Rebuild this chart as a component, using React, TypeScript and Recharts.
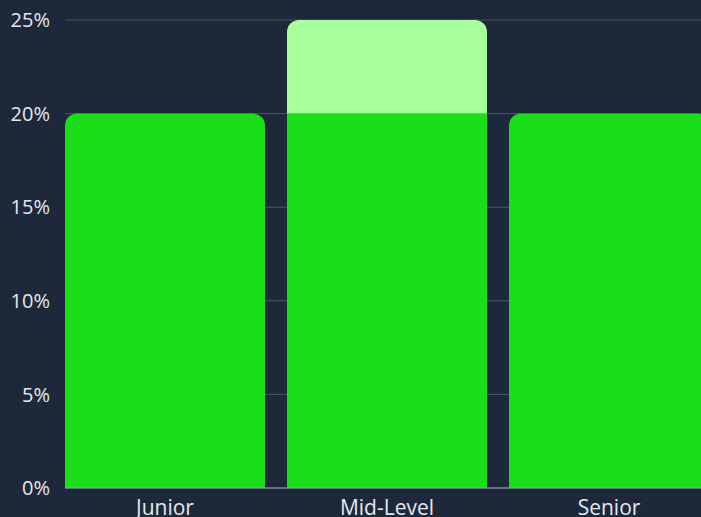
import { Bar, BarChart, CartesianGrid, Rectangle, XAxis, YAxis } from "recharts";

const levels = ["Junior", "Mid-Level", "Senior"];
const baseShare = [20, 20, 20];
const extraShare = [0, 5, 0];
const yTicks = [0, 5, 10, 15, 20, 25];

const data = levels.map((level, i) => ({
  level,
  base: baseShare[i],
  extra: extraShare[i],
}));

const font = "'Open Sans', sans-serif";
const yTickStyle = { fill: "#e5e7eb", fontSize: 20, fontFamily: font };
const xTickStyle = { fill: "#e5e7eb", fontSize: 21, fontFamily: font };

function BaseShape(props: any) {
  const capped = props.payload && props.payload.extra > 0;
  return <Rectangle {...props} radius={capped ? 0 : [12, 12, 0, 0]} />;
}

export default function App() {
  return (
    <div
      style={{
        position: "fixed",
        left: 0,
        top: 0,
        width: 701,
        height: 517,
        overflow: "hidden",
        background: "#1e283b",
      }}
    >
      <BarChart
        width={720}
        height={530}
        data={data}
        margin={{ top: 20, right: 0, bottom: 0, left: 0 }}
        barCategoryGap={11}
      >
        <CartesianGrid vertical={false} stroke="#4d5566" />
        <XAxis
          dataKey="level"
          padding={{ left: -11, right: 0 }}
          axisLine={{ stroke: "#9ca3af" }}
          tickLine={false}
          tickSize={0}
          tickMargin={12}
          height={42}
          tick={xTickStyle}
        />
        <YAxis
          width={65}
          domain={[0, 25]}
          ticks={yTicks}
          tickFormatter={(v) => `${v}%`}
          axisLine={false}
          tickLine={false}
          tickSize={0}
          tickMargin={15}
          tick={yTickStyle}
        />
        <Bar dataKey="base" stackId="s" fill="#18df18" shape={BaseShape} isAnimationActive={false} />
        <Bar dataKey="extra" stackId="s" fill="#a6ff9b" radius={[12, 12, 0, 0]} isAnimationActive={false} />
      </BarChart>
    </div>
  );
}
